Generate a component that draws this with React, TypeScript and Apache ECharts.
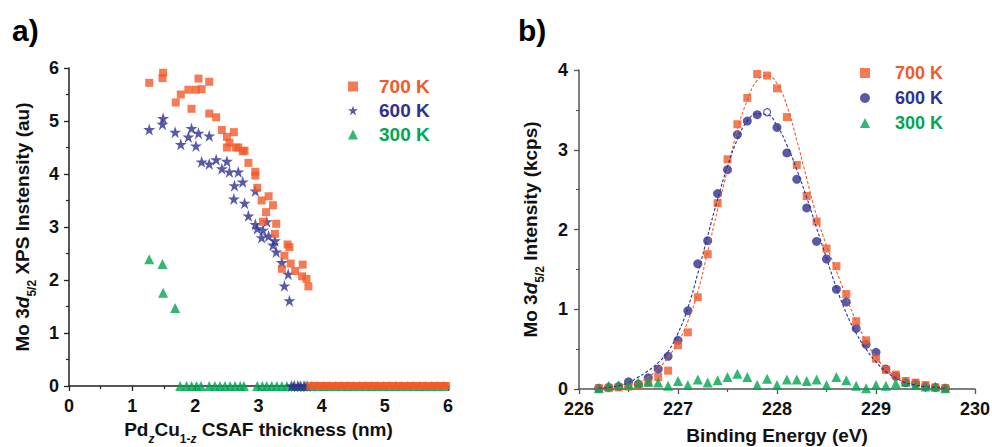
import React, { useEffect, useRef } from 'react';
import * as echarts from 'echarts';

// ---------- Panel a: Mo 3d5/2 XPS intensity vs PdzCu1-z thickness ----------
const thick700 = [1.27, 1.48, 1.49, 1.69, 1.77, 1.89, 1.94, 2.01, 2.05, 2.10, 2.22, 2.22, 2.33, 2.42, 2.50, 2.54, 2.50, 2.61, 2.64, 2.68, 2.75, 2.78, 2.84, 2.95, 2.95, 2.98, 3.05, 3.07, 3.12, 3.16, 3.23, 3.28, 3.26, 3.37, 3.41, 3.46, 3.49, 3.51, 3.58, 3.70, 3.69, 3.76, 3.79,
  3.82, 3.87, 3.92, 3.97, 4.02, 4.08, 4.13, 4.18, 4.24, 4.29, 4.35, 4.40, 4.46, 4.51, 4.57, 4.62, 4.68, 4.73, 4.79, 4.84, 4.90, 4.95, 5.01, 5.06, 5.12, 5.17, 5.23, 5.28, 5.34, 5.39, 5.45, 5.50, 5.56, 5.61, 5.67, 5.72, 5.78, 5.83, 5.89, 5.94, 5.97];
const int700 = [5.72, 5.81, 5.91, 5.35, 5.50, 5.59, 5.23, 5.59, 5.80, 5.60, 5.74, 5.14, 5.07, 4.83, 4.70, 4.59, 4.50, 4.79, 4.50, 4.50, 4.43, 4.44, 4.21, 4.04, 3.97, 3.74, 3.50, 3.10, 3.28, 3.58, 3.41, 3.06, 2.87, 2.21, 2.46, 2.67, 2.62, 2.31, 2.17, 2.29, 2.07, 2.02, 1.88,
  0, 0, 0, 0, 0, 0, 0, 0, 0, 0, 0, 0, 0, 0, 0, 0, 0, 0, 0, 0, 0, 0, 0, 0, 0, 0, 0, 0, 0, 0, 0, 0, 0, 0, 0, 0, 0, 0, 0, 0, 0];

const thick600 = [1.27, 1.48, 1.49, 1.68, 1.77, 1.89, 1.94, 2.01, 2.05, 2.10, 2.22, 2.22, 2.33, 2.42, 2.50, 2.54, 2.68, 2.62, 2.75, 2.61, 2.78, 2.84, 2.95, 2.95, 2.98, 3.05, 3.07, 3.13, 3.16, 3.23, 3.26, 3.28, 3.37, 3.47, 3.41, 3.49,
  3.52, 3.57, 3.62, 3.67, 3.72, 3.77];
const int600 = [4.84, 4.94, 5.05, 4.79, 4.56, 4.70, 4.86, 4.53, 4.77, 4.23, 4.72, 4.19, 4.27, 4.10, 4.24, 4.04, 4.04, 3.78, 3.85, 3.53, 3.45, 3.21, 3.68, 3.05, 2.97, 2.80, 2.94, 3.10, 2.83, 2.66, 2.74, 2.53, 2.33, 2.11, 1.89, 1.61,
  0, 0, 0, 0, 0, 0];

const thick300 = [1.27, 1.48, 1.49, 1.68,
  1.76, 1.86, 1.94, 2.02, 2.09, 2.22, 2.31, 2.39, 2.47, 2.55, 2.63, 2.71, 2.77, 2.98, 3.06, 3.13, 3.21, 3.29, 3.37, 3.45,
  3.55, 3.64, 3.74, 3.84, 3.93, 4.03, 4.12, 4.22, 4.31, 4.41, 4.50, 4.60, 4.69, 4.79, 4.88, 4.98, 5.07, 5.17, 5.26, 5.36, 5.45, 5.55, 5.64, 5.74, 5.83, 5.93];
const int300 = [2.39, 2.30, 1.76, 1.47,
  0, 0, 0, 0, 0, 0, 0, 0, 0, 0, 0, 0, 0, 0, 0, 0, 0, 0, 0, 0,
  0, 0, 0, 0, 0, 0, 0, 0, 0, 0, 0, 0, 0, 0, 0, 0, 0, 0, 0, 0, 0, 0, 0, 0, 0, 0];

// ---------- Panel b: Mo 3d5/2 spectra ----------
const energy = [226.2, 226.3, 226.4, 226.5, 226.6, 226.7, 226.8, 226.9, 227.0, 227.1, 227.2, 227.3, 227.4, 227.5, 227.6, 227.7, 227.8, 227.9, 228.0, 228.1, 228.2, 228.3, 228.4, 228.5, 228.6, 228.7, 228.8, 228.9, 229.0, 229.1, 229.2, 229.3, 229.4, 229.5, 229.6, 229.7];
const spec700 = [0.01, 0.01, 0.02, 0.03, 0.04, 0.08, 0.15, 0.23, 0.55, 0.71, 1.15, 1.69, 2.33, 2.88, 3.32, 3.65, 3.95, 3.93, 3.77, 3.41, 2.81, 2.42, 2.10, 1.76, 1.54, 1.19, 0.85, 0.61, 0.38, 0.24, 0.18, 0.10, 0.08, 0.05, 0.02, 0.01];
const spec600 = [0.01, 0.02, 0.03, 0.09, 0.06, 0.14, 0.25, 0.41, 0.61, 0.98, 1.57, 1.86, 2.45, 2.75, 3.19, 3.36, 3.44, 3.47, 3.28, 2.96, 2.63, 2.27, 1.85, 1.63, 1.25, 1.09, 0.76, 0.56, 0.46, 0.25, 0.16, 0.08, 0.07, 0.03, 0.02, 0.01];
const spec300 = [0.01, 0.04, 0.05, 0.06, 0.08, 0.09, 0.08, 0.04, 0.10, 0.05, 0.12, 0.08, 0.11, 0.15, 0.19, 0.15, 0.05, 0.13, 0.05, 0.12, 0.12, 0.10, 0.12, 0.05, 0.15, 0.11, 0.04, 0.01, 0.05, 0.04, 0.07, 0.09, 0.05, 0.03, 0.03, 0.01];
const fit700 = [0.00, 0.01, 0.02, 0.04, 0.08, 0.15, 0.25, 0.40, 0.58, 0.85, 1.22, 1.72, 2.25, 2.75, 3.25, 3.62, 3.87, 3.93, 3.83, 3.55, 3.12, 2.64, 2.17, 1.80, 1.48, 1.15, 0.85, 0.60, 0.40, 0.26, 0.16, 0.10, 0.06, 0.03, 0.02, 0.01];
const fit600 = [0.01, 0.02, 0.04, 0.08, 0.15, 0.23, 0.33, 0.47, 0.70, 1.02, 1.45, 1.92, 2.38, 2.79, 3.13, 3.36, 3.45, 3.44, 3.30, 3.06, 2.75, 2.40, 2.02, 1.64, 1.27, 0.95, 0.70, 0.50, 0.34, 0.22, 0.14, 0.08, 0.05, 0.03, 0.02, 0.01];
const openPointEnergy = 227.9; // hollow marker in the 600 K spectrum

const legendNames = ['700 K', '600 K', '300 K'];
const ticksA = [0, 1, 2, 3, 4, 5, 6];
const ticksBx = [226, 227, 228, 229, 230];
const ticksBy = [0, 1, 2, 3, 4];

const FONT = '"Liberation Sans", Arial, Helvetica, sans-serif';
const ORANGE = '#F15A29';
const BLUE = '#2E3192';
const GREEN = '#00A651';
const STAR = 'path://M50,0L61.2,34.5L97.6,34.5L68.2,55.9L79.4,90.5L50,69.1L20.6,90.5L31.8,55.9L2.4,34.5L38.8,34.5Z';

const zip = (xs: number[], ys: number[]) => xs.map((x, i) => [x, ys[i]]);

const nameRich = {
  b: { fontSize: 19, fontWeight: 'bold', fontFamily: FONT, color: '#111', lineHeight: 22, verticalAlign: 'top' },
  bi: { fontSize: 19, fontWeight: 'bold', fontStyle: 'italic', fontFamily: FONT, color: '#111', lineHeight: 22, verticalAlign: 'top' },
  s: { fontSize: 12, fontWeight: 'bold', fontFamily: FONT, color: '#111', lineHeight: 25, verticalAlign: 'bottom' },
  si: { fontSize: 12, fontWeight: 'bold', fontStyle: 'italic', fontFamily: FONT, color: '#111', lineHeight: 25, verticalAlign: 'bottom' },
};

const axisCommon = (lineColor: string) => ({
  axisLine: { show: true, onZero: false, lineStyle: { color: lineColor, width: 1.5 } },
  axisTick: { show: true, inside: false, length: 5, lineStyle: { color: lineColor, width: 1.3 } },
  minorTick: { show: true, splitNumber: 2, length: 3, lineStyle: { color: lineColor, width: 1.2 } },
  splitLine: { show: false },
  minorSplitLine: { show: false },
  nameTextStyle: { rich: nameRich },
});

const labelStyle = (margin: number) => ({ fontSize: 18, fontWeight: 'bold', fontFamily: FONT, color: '#111', margin });

export default function App() {
  const ref = useRef<HTMLDivElement>(null);
  useEffect(() => {
    if (!ref.current) return;
    const chart = echarts.init(ref.current, undefined, { renderer: 'svg' });
    const specB600 = energy.map((e, i) =>
      e === openPointEnergy
        ? { value: [e, spec600[i]], symbolSize: 7, itemStyle: { color: '#fff', borderColor: BLUE, borderWidth: 1.2 } }
        : [e, spec600[i]]
    );
    chart.setOption({
      animation: false,
      backgroundColor: '#fff',
      graphic: [
        { type: 'text', x: 12, y: 30, style: { text: 'a)', fontSize: 30, fontWeight: 'bold', fontFamily: FONT, fill: '#000', verticalAlign: 'middle' } },
        { type: 'text', x: 518, y: 30, style: { text: 'b)', fontSize: 30, fontWeight: 'bold', fontFamily: FONT, fill: '#000', verticalAlign: 'middle' } },
      ],
      grid: [
        { left: 69, top: 68, width: 379, height: 318, outerBoundsMode: 'none', containLabel: false },
        { left: 579, top: 70, width: 396, height: 319, outerBoundsMode: 'none', containLabel: false },
      ],
      xAxis: [
        {
          gridIndex: 0, type: 'value', min: ticksA[0], max: ticksA[ticksA.length - 1], interval: 1,
          name: '{b|Pd}{si|z}{b|Cu}{s|1-}{si|z}{b| CSAF thickness (nm)}', nameLocation: 'middle', nameGap: 34,
          ...axisCommon('#222'),
          axisLabel: labelStyle(11),
        },
        {
          gridIndex: 1, type: 'value', min: ticksBx[0], max: ticksBx[ticksBx.length - 1], interval: 1,
          name: '{b|Binding Energy (eV)}', nameLocation: 'middle', nameGap: 37,
          ...axisCommon('#555'),
          axisLabel: labelStyle(11),
        },
      ],
      yAxis: [
        {
          gridIndex: 0, type: 'value', min: ticksA[0], max: ticksA[ticksA.length - 1], interval: 1,
          name: '{b|Mo 3}{bi|d}{s|5/2}{b| XPS Instensity (au)}', nameLocation: 'middle', nameGap: 31,
          ...axisCommon('#222'),
          axisLabel: labelStyle(10),
        },
        {
          gridIndex: 1, type: 'value', min: ticksBy[0], max: ticksBy[ticksBy.length - 1], interval: 1,
          name: '{b|Mo 3}{bi|d}{s|5/2}{b| Intensity (kcps)}', nameLocation: 'middle', nameGap: 33,
          ...axisCommon('#555'),
          axisLabel: labelStyle(11),
        },
      ],
      legend: [
        {
          left: 343, top: 72, orient: 'vertical', itemGap: 5, itemWidth: 10, itemHeight: 10, selectedMode: false,
          textStyle: { fontSize: 19, fontWeight: 'bold', fontFamily: FONT, padding: [0, 0, 0, 16] },
          data: [
            { name: legendNames[0], textStyle: { color: ORANGE } },
            { name: legendNames[1], textStyle: { color: BLUE } },
            { name: legendNames[2], textStyle: { color: GREEN } },
          ],
        },
        {
          left: 855, top: 59, orient: 'vertical', itemGap: 7, itemWidth: 10, itemHeight: 10, selectedMode: false,
          textStyle: { fontSize: 18, fontWeight: 'bold', fontFamily: FONT, padding: [0, 0, 0, 20] },
          formatter: (n: string) => n.replace(' (b)', ''),
          data: [
            { name: legendNames[0] + ' (b)', textStyle: { color: ORANGE } },
            { name: legendNames[1] + ' (b)', textStyle: { color: BLUE } },
            { name: legendNames[2] + ' (b)', textStyle: { color: GREEN } },
          ],
        },
      ],
      series: [
        { name: legendNames[2], type: 'scatter', xAxisIndex: 0, yAxisIndex: 0, symbol: 'triangle', symbolSize: 10, itemStyle: { color: GREEN }, data: zip(thick300, int300) },
        { name: legendNames[1], type: 'scatter', xAxisIndex: 0, yAxisIndex: 0, symbol: STAR, symbolSize: 12, itemStyle: { color: BLUE }, data: zip(thick600, int600) },
        { name: legendNames[0], type: 'scatter', xAxisIndex: 0, yAxisIndex: 0, symbol: 'rect', symbolSize: 8, itemStyle: { color: ORANGE }, data: zip(thick700, int700) },

        { name: legendNames[1] + ' (b)', type: 'scatter', xAxisIndex: 1, yAxisIndex: 1, symbol: 'circle', symbolSize: 9, itemStyle: { color: BLUE }, data: specB600 },
        { name: legendNames[0] + ' (b)', type: 'scatter', xAxisIndex: 1, yAxisIndex: 1, symbol: 'rect', symbolSize: 8, itemStyle: { color: ORANGE }, data: zip(energy, spec700) },
        { name: legendNames[2] + ' (b)', type: 'scatter', xAxisIndex: 1, yAxisIndex: 1, symbol: 'triangle', symbolSize: 10, itemStyle: { color: GREEN }, data: zip(energy, spec300) },
        { name: 'fit 700 K', type: 'line', xAxisIndex: 1, yAxisIndex: 1, smooth: true, showSymbol: false, silent: true, z: 3, lineStyle: { color: ORANGE, width: 1.1, type: [3, 2] }, data: zip(energy, fit700) },
        { name: 'fit 600 K', type: 'line', xAxisIndex: 1, yAxisIndex: 1, smooth: true, showSymbol: false, silent: true, z: 3, lineStyle: { color: BLUE, width: 1.1, type: [3, 2] }, data: zip(energy, fit600) },
      ],
    });
    return () => chart.dispose();
  }, []);
  return <div ref={ref} style={{ position: 'absolute', left: 0, top: 0, width: 992, height: 447 }} />;
}
